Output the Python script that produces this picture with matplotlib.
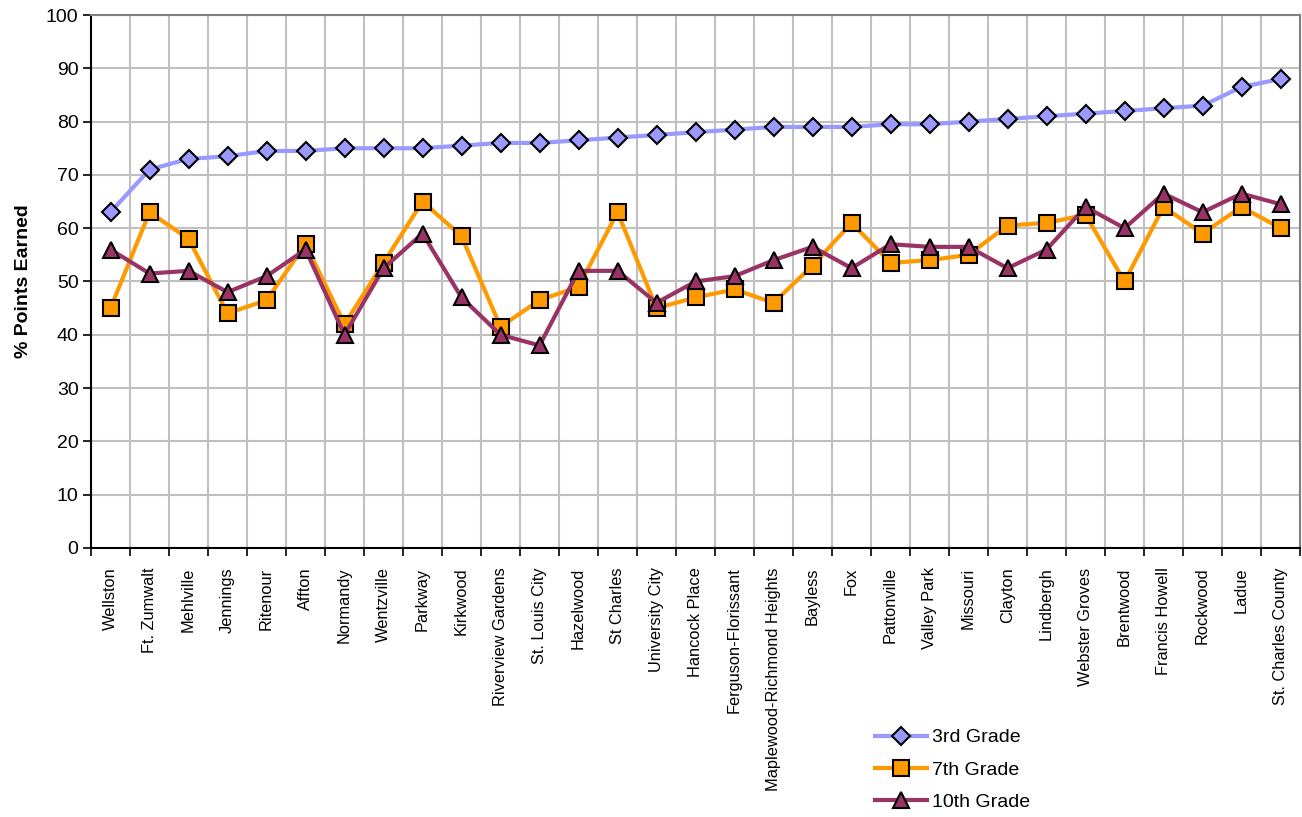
import numpy as np
import matplotlib.pyplot as plt
from matplotlib.ticker import FixedLocator, NullFormatter

plt.rcParams['font.family'] = ['Liberation Sans', 'DejaVu Sans']

districts = ["Wellston", "Ft. Zumwalt", "Mehlville", "Jennings", "Ritenour", "Affton",
             "Normandy", "Wentzville", "Parkway", "Kirkwood", "Riverview Gardens",
             "St. Louis City", "Hazelwood", "St Charles", "University City",
             "Hancock Place", "Ferguson-Florissant", "Maplewood-Richmond Heights",
             "Bayless", "Fox", "Pattonville", "Valley Park", "Missouri", "Clayton",
             "Lindbergh", "Webster Groves", "Brentwood", "Francis Howell", "Rockwood",
             "Ladue", "St. Charles County"]

grade3 = [63, 71, 73, 73.5, 74.5, 74.5, 75, 75, 75, 75.5, 76, 76, 76.5, 77, 77.5, 78,
          78.5, 79, 79, 79, 79.5, 79.5, 80, 80.5, 81, 81.5, 82, 82.5, 83, 86.5, 88]
grade7 = [45, 63, 58, 44, 46.5, 57, 42, 53.5, 65, 58.5, 41.5, 46.5, 49, 63, 45, 47,
          48.5, 46, 53, 61, 53.5, 54, 55, 60.5, 61, 62.5, 50, 64, 59, 64, 60]
grade10 = [56, 51.5, 52, 48, 51, 56, 40, 52.5, 59, 47, 40, 38, 52, 52, 46, 50,
           51, 54, 56.5, 52.5, 57, 56.5, 56.5, 52.5, 56, 64, 60, 66.5, 63, 66.5, 64.5]

fig = plt.figure(figsize=(13.02, 8.17), dpi=100)
ax = fig.add_axes([0.0699, 0.3293, 0.9286, 0.6523])

x = np.arange(len(districts))
ax.plot(x, grade3, color='#9999FF', lw=3, marker='D', ms=9, mfc='#9999FF',
        mec='black', mew=1.5, label='3rd Grade', zorder=3)
ax.plot(x, grade7, color='#FF9900', lw=3, marker='s', ms=12, mfc='#FF9900',
        mec='black', mew=1.5, label='7th Grade', zorder=3)
ax.plot(x, grade10, color='#993366', lw=3, marker='^', ms=12, mfc='#993366',
        mec='black', mew=1.5, label='10th Grade', zorder=4)

ax.set_xlim(-0.5, len(districts) - 0.5)
ax.set_ylim(0, 100)
ax.set_yticks(np.arange(0, 101, 10))
ax.xaxis.set_major_locator(FixedLocator(np.arange(-0.5, len(districts), 1)))
ax.xaxis.set_major_formatter(NullFormatter())
ax.xaxis.set_minor_locator(FixedLocator(x))
ax.set_xticklabels(districts, minor=True, rotation=90, fontsize=11.8)
ax.tick_params(axis='x', which='minor', length=0, pad=14)
ax.tick_params(axis='x', which='major', length=6, width=1.2, color='black')
ax.tick_params(axis='y', length=6, width=1.2, labelsize=14, pad=3)

ax.grid(True, which='major', color='#c0c0c0', lw=1.5)
ax.set_axisbelow(True)
ax.spines['top'].set_color('#808080')
ax.spines['right'].set_color('#808080')
ax.spines['top'].set_linewidth(1.5)
ax.spines['right'].set_linewidth(1.5)
ax.spines['left'].set_linewidth(1.5)
ax.spines['bottom'].set_linewidth(1.5)

ax.set_ylabel('% Points Earned', fontsize=14, fontweight='bold', labelpad=10)

fig.legend(loc='upper left', bbox_to_anchor=(0.666, 0.1175), frameon=False,
           fontsize=14, handlelength=2.7, handletextpad=0.25, labelspacing=0.75,
           borderaxespad=0)

fig.savefig('out.png', dpi=100)
